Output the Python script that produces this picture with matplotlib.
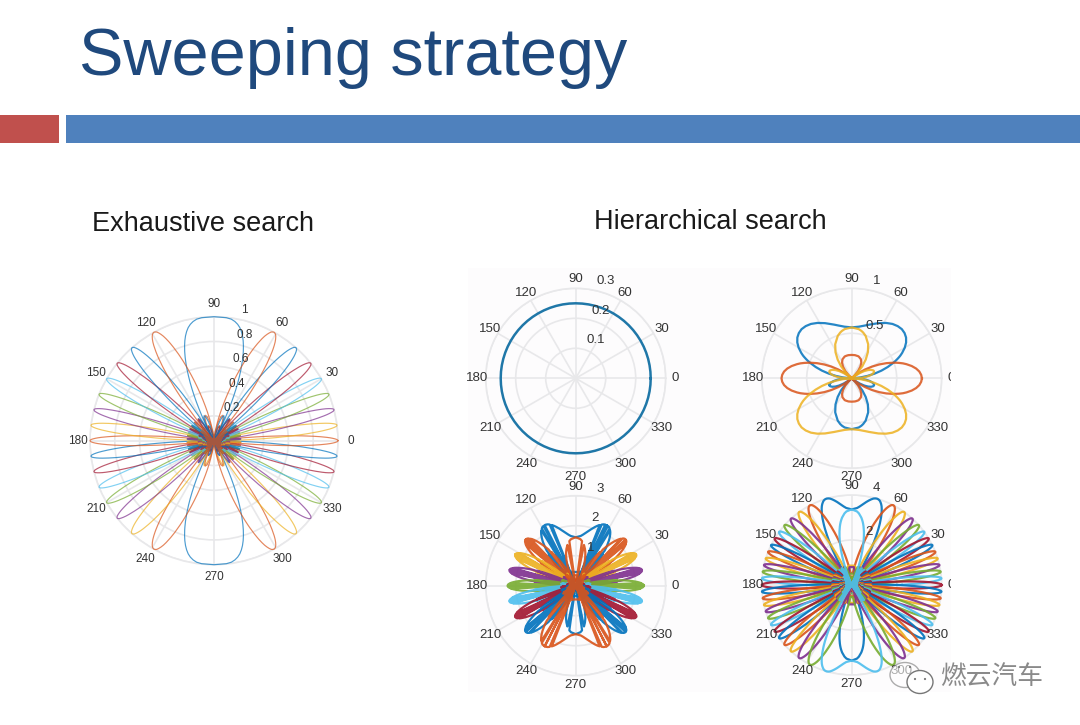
import numpy as np
import matplotlib
matplotlib.use("Agg")
import matplotlib.pyplot as plt
from matplotlib.patches import Rectangle, Ellipse, Circle

plt.rcParams['font.family'] = ['Liberation Sans', 'Noto Sans CJK SC', 'DejaVu Sans']

W, H = 1080, 725

title_text = "Sweeping strategy"
left_head = "Exhaustive search"
right_head = "Hierarchical search"
watermark = "燃云汽车"

theta_ticks = [0, 30, 60, 90, 120, 150, 180, 210, 240, 270, 300, 330]
matlab_colors = ["#0072BD", "#D95319", "#EDB120", "#7E2F8E", "#77AC30", "#4DBEEE", "#A2142F"]

# lobe outline: gain (fraction of peak) against distance from beam centre
lobe_x = [0, .04, .08, .12, .16, .2, .24, .28, .3, .32, .34, .36, .4, .42, .44, .46, .48, .52, .56, .6,
          .64, .68, .72, .76, .8, .84, .88, .92, .96, 1,
          1.08, 1.2, 1.32, 1.44, 1.56, 1.68, 1.84, 2,
          2.16, 2.3, 2.5, 2.7, 2.88, 3,
          3.15, 3.3, 3.5, 3.7, 3.88, 4,
          4.15, 4.3, 4.5, 4.7, 4.88, 5,
          5.15, 5.5, 5.85, 6, 6.15, 6.5, 6.85, 7, 7.15, 7.5, 7.85, 8]
lobe_gain = [1, .997, .990, .976, .958, .936, .908, .876, .858, .840, .820, .800, .757, .734, .711, .687, .662, .611, .558, .505,
             .450, .395, .341, .286, .234, .182, .133, .085, .042, 0,
             .073, .156, .204, .217, .200, .160, .083, 0,
             .071, .111, .128, .095, .04, 0,
             .046, .078, .091, .069, .03, 0,
             .036, .060, .071, .055, .024, 0,
             .03, .062, .03, 0, .03, .06, .03, 0, .03, .055, .03, 0]

# the wide beams of the second level have their own outline
wide_d = [0, .05, .1, .15, .2, .25, .27, .28, .29, .3, .31, .32, .33, .35, .4, .45, .5, .55, .6, .65, .667,
          .7, .75, .8, .85, .9, .95, .96, .98, .99, 1]
wide_gain = [1, .991, .968, .928, .873, .805, .775, .76, .743, .725, .708, .69, .672, .636, .539, .438, .333, .229, .127, .031, 0,
             .059, .138, .206, .261, .301, .325, .328, .331, .333, .333]

# beam directions (sine of steering angle) for each panel
exhaustive_dirs = [-1, -.875, -.75, -.625, -.5, -.375, -.25, -.125, 0, .125, .25, .375, .5, .625, .75, .875]
level2_dirs = [.7, 0, -.7]
level3_dirs = [.89, .68, .46, .23, 0, -.23, -.46, -.68, -.89]
level4_dirs = [.96, .886, .812, .738, .665, .591, .517, .443, .369, .295, .222, .148, .074, 0,
               -.074, -.148, -.222, -.295, -.369, -.443, -.517, -.591, -.665, -.738, -.812, -.886, -.96]

level1_gain = 0.25
exhaustive_peak = 1.0
level2_peak = 0.78
level3_peak = 2.27
level4_peak = 4.0


def px_rect(cx, cy, r):
    return [(cx - r) / W, 1 - (cy + r) / H, 2 * r / W, 2 * r / H]


def beam_curve(u0, d, gain):
    # one sample per table row on both sides of the beam, then mirrored about the array axis
    d = np.array(d)
    gain = np.array(gain)
    u = np.concatenate([u0 + d, u0 - d])
    r = np.concatenate([gain, gain])
    u = (u + 1) % 2 - 1
    # sine -1 and +1 are the same point of the period, keep it at both ends
    edge = np.isclose(np.abs(u), 1) | np.isclose(u, -1)
    u = np.concatenate([np.clip(u, -1, 1), -u[edge]])
    r = np.concatenate([r, r[edge]])
    u = np.clip(u, -1, 1)
    th = np.concatenate([np.arcsin(u), np.pi - np.arcsin(u)]) % (2 * np.pi)
    r = np.concatenate([r, r])
    order = np.argsort(th)
    th, r = th[order], r[order]
    return np.append(th, th[0]), np.append(r, r[0])


def setup_polar(fig, cx, cy, radius, rmax, rings, ring_labels, fs):
    ax = fig.add_axes(px_rect(cx, cy, radius), projection='polar')
    ax.patch.set_alpha(0)
    ax.set_ylim(0, rmax)
    ax.set_thetagrids(theta_ticks, labels=[])
    ax.set_rgrids(rings, labels=[])
    ax.grid(True, color="#e8e8ea", lw=1.2)
    ax.spines['polar'].set_color("#e8e8ea")
    ax.spines['polar'].set_linewidth(1.2)
    ax.tick_params(length=0)
    for t in theta_ticks:
        ax.text(np.radians(t), rmax * 1.10, str(t), ha='center', va='center',
                fontsize=fs, color="#333333", clip_on=False, zorder=6)
    for val, lab in zip(rings, ring_labels):
        ax.annotate(lab, (np.radians(80), val), xytext=(4, 6), textcoords='offset points',
                    ha='left', va='center', fontsize=fs, color="#333333", zorder=7,
                    annotation_clip=False)
    return ax


def draw_beams(ax, dirs, d, gain, peak, lw, alpha):
    for i, u0 in enumerate(dirs):
        th, r = beam_curve(u0, d, gain)
        ax.plot(th, r * peak, color=matlab_colors[i % 7], lw=lw, alpha=alpha, clip_on=False, zorder=3)


fig = plt.figure(figsize=(W / 100, H / 100), dpi=100, facecolor="white")

bg = fig.add_axes([0, 0, 1, 1])
bg.set_xlim(0, W)
bg.set_ylim(H, 0)
bg.axis('off')
bg.add_patch(Rectangle((468, 268), 484, 424, fc="#fdfcfd", ec="none"))
bg.add_patch(Rectangle((0, 115), 59, 28, fc="#C0504D", ec="none"))
bg.add_patch(Rectangle((66, 115), 1014, 28, fc="#4F81BD", ec="none"))
bg.text(79, 75, title_text, fontsize=48, color="#1F497D", ha='left', va='baseline')
bg.text(92, 224, left_head, fontsize=19.5, color="#1a1a1a", ha='left', va='center')
bg.text(594, 222, right_head, fontsize=19.5, color="#1a1a1a", ha='left', va='center')

ax0 = setup_polar(fig, 214, 440.7, 124, 1, [.2, .4, .6, .8, 1], ["0.2", "0.4", "0.6", "0.8", "1"], 8.5)
draw_beams(ax0, exhaustive_dirs, np.array(lobe_x) / 8, lobe_gain, exhaustive_peak, 0.85, 0.7)

ax1 = setup_polar(fig, 575.7, 378.3, 90, .3, [.1, .2, .3], ["0.1", "0.2", "0.3"], 9.5)
ax1.plot(np.radians(np.arange(0, 361, 5)), np.full(73, level1_gain), color="#1f77a8", lw=1.8, zorder=3)

ax2 = setup_polar(fig, 851.7, 378.3, 90, 1, [.5, 1], ["0.5", "1"], 9.5)
draw_beams(ax2, level2_dirs, wide_d, wide_gain, level2_peak, 1.6, 0.85)

ax3 = setup_polar(fig, 575.7, 585.7, 90, 3, [1, 2, 3], ["1", "2", "3"], 9.5)
draw_beams(ax3, level3_dirs, np.array(lobe_x) / 4, lobe_gain, level3_peak, 1.6, 0.9)

ax4 = setup_polar(fig, 851.7, 585, 90, 4, [2, 4], ["2", "4"], 9.5)
draw_beams(ax4, level4_dirs, np.array(lobe_x) / 8, lobe_gain, level4_peak, 1.6, 0.9)

top = fig.add_axes([0, 0, 1, 1], zorder=20)
top.set_xlim(0, W)
top.set_ylim(H, 0)
top.axis('off')
top.add_patch(Rectangle((951, 265), 60, 430, fc="white", ec="none"))
top.add_patch(Ellipse((905, 675), 30, 25, fc="white", ec="#777777", lw=1, alpha=0.6))
top.add_patch(Ellipse((920, 682), 26, 23, fc="white", ec="#777777", lw=1))
for x, y in [(899, 667), (910, 667), (915, 679), (925, 679)]:
    top.add_patch(Circle((x, y), 1.1, fc="#777777", ec="none"))
top.text(940, 677, watermark, fontsize=18.5, color="#8a8a8a", ha='left', va='center')

fig.savefig("out.png", dpi=100)
